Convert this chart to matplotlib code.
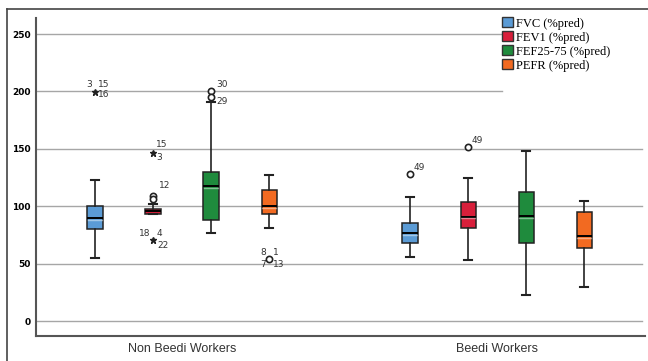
import matplotlib.pyplot as plt
from matplotlib.patches import Patch
from matplotlib.lines import Line2D

# groups and measures
groups = ["Non Beedi Workers", "Beedi Workers"]
measures = ["FVC (%pred)", "FEV1 (%pred)", "FEF25-75 (%pred)", "PEFR (%pred)"]
colors = ["#5b9bd5", "#d81f3b", "#1f8b3d", "#f26a21"]

# box stats: [non beedi, beedi] per measure
whislo = [[55, 55.5], [93.5, 53], [76.5, 23], [81, 29.5]]
q1 = [[80, 68], [93.5, 80.7], [88, 68], [93, 63.6]]
med = [[90, 77], [95.5, 91], [117.5, 91.5], [100, 74.3]]
q3 = [[100, 85], [98, 103.4], [130, 112], [114, 95.2]]
whishi = [[123, 108], [102, 124.6], [191, 148.3], [127, 104.5]]

# outliers: (group, measure, value, kind, labels)
outliers = [
    (0, 0, 199.5, "*", [("3", -9, 3), ("15", 3, 3), ("16", 3, -7)]),
    (0, 1, 146, "*", [("15", 3, 4), ("3", 3, -9)]),
    (0, 1, 109, "o", [("12", 6, 6)]),
    (0, 1, 106, "o", []),
    (0, 1, 71, "*", [("18", -14, 2), ("4", 4, 2), ("22", 4, -10)]),
    (0, 2, 200.5, "o", [("30", 5, 2)]),
    (0, 2, 195, "o", [("29", 5, -9)]),
    (0, 3, 54, "o", [("8", -9, 2), ("1", 4, 2), ("7", -9, -10), ("13", 4, -10)]),
    (1, 0, 128, "o", [("49", 4, 2)]),
    (1, 1, 152, "o", [("49", 4, 2)]),
]

group_centers = [0, 5.43]
offsets = [-1.5, -0.5, 0.5, 1.5]

fig = plt.figure(figsize=(6.48, 3.61), dpi=100)
ax = fig.add_axes([36 / 648, 25 / 361, 609 / 648, 318 / 361])

# gridlines (the top two stop before the legend)
for y in [0, 50, 100, 150, 200, 250]:
    xmax = 0.765 if y >= 200 else 0.995
    ax.axhline(y, xmin=0, xmax=xmax, color="#a6a6a6", lw=1, zorder=0)

for m in range(4):
    stats = []
    pos = []
    for g in range(2):
        stats.append(dict(med=med[m][g], q1=q1[m][g], q3=q3[m][g],
                          whislo=whislo[m][g], whishi=whishi[m][g], fliers=[]))
        pos.append(group_centers[g] + offsets[m])
    ax.bxp(stats, positions=pos, widths=0.26, patch_artist=True, showfliers=False,
           capwidths=0.13,
           boxprops=dict(facecolor=colors[m], edgecolor="#222222", lw=1.1),
           medianprops=dict(color="black", lw=1.4),
           whiskerprops=dict(color="#222222", lw=1.2),
           capprops=dict(color="#222222", lw=1.5), zorder=3)
    # glossy highlight next to median
    for g in range(2):
        x = group_centers[g] + offsets[m]
        if q3[m][g] - q1[m][g] < 6:
            continue
        ax.plot([x - 0.12, x + 0.12], [med[m][g] - 1.6, med[m][g] - 1.6],
                color="white", alpha=0.45, lw=1, zorder=4)

for g, m, v, kind, labels in outliers:
    x = group_centers[g] + offsets[m]
    if kind == "o":
        ax.plot(x, v, "o", mfc="white", mec="#222222", ms=4.5, mew=1.2, zorder=5)
    else:
        ax.plot(x, v, "*", color="#222222", ms=5, zorder=5)
    for txt, dx, dy in labels:
        ax.annotate(txt, (x, v), xytext=(dx * 0.72, dy * 0.72), textcoords="offset points",
                    fontsize=6.5, color="#333333", va="bottom", ha="left")

ax.set_xlim(-2.517, 7.98)
ax.set_ylim(-13, 264)
ax.set_yticks([0, 50, 100, 150, 200, 250])
ax.tick_params(axis="y", length=0, pad=4, labelsize=6.5)
for lab in ax.get_yticklabels():
    lab.set_fontweight("bold")
ax.set_xticks(group_centers)
ax.set_xticklabels(groups, fontsize=9, family="Liberation Sans", color="#333333")
ax.tick_params(axis="x", length=0, pad=5)
for s in ["top", "right"]:
    ax.spines[s].set_visible(False)
for s in ["left", "bottom"]:
    ax.spines[s].set_color("#555555")
    ax.spines[s].set_linewidth(1.5)

handles = [Patch(facecolor=c, edgecolor="#333333", lw=1) for c in colors]
fig.legend(handles, measures, loc="upper left", bbox_to_anchor=(502 / 648, 1 - 17 / 361),
           frameon=False, prop=dict(family="Liberation Serif", size=9),
           handlelength=0.9, handleheight=0.9, handletextpad=0.2, labelspacing=0.12,
           borderpad=0, borderaxespad=0)

# outer frame
fig.add_artist(Line2D([7 / 648, 7 / 648], [0, 1 - 9 / 361], transform=fig.transFigure,
                      color="#444444", lw=1.2))
fig.add_artist(Line2D([7 / 648, 1], [1 - 9 / 361, 1 - 9 / 361], transform=fig.transFigure,
                      color="#444444", lw=1.2))

fig.savefig("out.png", dpi=100)
